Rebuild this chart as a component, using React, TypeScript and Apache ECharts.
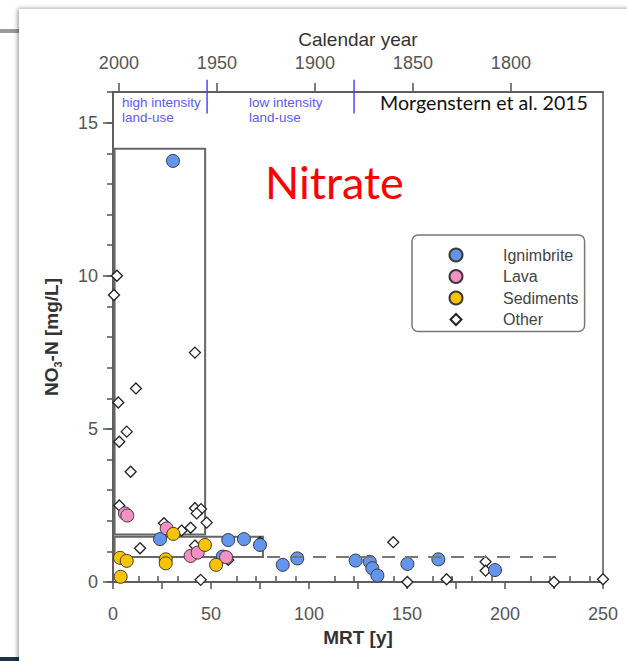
import React, { useEffect, useRef } from "react";
import * as echarts from "echarts";

// ---------- data ----------
const ignimbriteMRT = [30.6, 24, 56, 58.8, 66.8, 75, 86.6, 94, 123.8, 131, 132.3, 134.9, 150.2, 166, 194.9];
const ignimbriteNO3 = [13.75, 1.4, 0.83, 1.37, 1.4, 1.21, 0.56, 0.77, 0.7, 0.66, 0.45, 0.21, 0.59, 0.74, 0.39];

const lavaMRT = [6.1, 7.3, 27.4, 39.6, 43.2, 57.7];
const lavaNO3 = [2.24, 2.17, 1.75, 0.85, 0.96, 0.81];

const sedimentsMRT = [3.6, 7, 3.9, 26.9, 26.9, 30.8, 46.9, 52.6];
const sedimentsNO3 = [0.79, 0.69, 0.17, 0.74, 0.61, 1.57, 1.21, 0.56];

const otherMRT = [2, 0.5, 41.8, 11.7, 2.7, 7, 3.2, 9, 3.2, 41.8, 44.9, 42.7, 47.8, 26, 35, 39.6, 13.8, 41.8, 58.8, 44.7, 75, 143, 150.2, 170.2, 190.1, 190.1, 225, 250];
const otherNO3 = [10.0, 9.37, 7.49, 6.32, 5.86, 4.91, 4.58, 3.6, 2.5, 2.41, 2.38, 2.24, 1.94, 1.92, 1.68, 1.77, 1.1, 1.19, 0.72, 0.07, 1.3, 1.3, 0.0, 0.09, 0.66, 0.37, 0.0, 0.09];

const seriesNames = ["Ignimbrite", "Lava", "Sediments", "Other"];

// axes
const mrtMin = 0;
const mrtMax = 250;
const mrtInterval = 50;
const no3Min = 0;
const no3Max = 16;
const no3Interval = 5;
const samplingYear = 2003;
const yearLabels = [2000, 1950, 1900, 1850, 1800];
const yearMinorTicks = [1990, 1980, 1970, 1960, 1940, 1930, 1920, 1910, 1890, 1880, 1870, 1860, 1840, 1830, 1820, 1810, 1790, 1780, 1770, 1760];

// annotations
const landUseYears = [1955, 1880];
const landUseMarkBottom = 15.3;
const landUseMarkTop = 16.4;
const boxes = [
  [0.8, 1.55, 47, 14.15],
  [0.8, 0.82, 76.5, 1.48],
];
const baselineLevel = 0.82;
const baselineFrom = 78.6;
const baselineTo = 229;

const zip = (a: number[], b: number[]) => a.map((v, i) => [v, b[i]]);

const AXIS = "#555";
const LABEL = "#555";
const SANS = "'Liberation Sans', Arial, Helvetica, sans-serif";
// diamond legend icon; the two leading move-to points span the whole icon box so the diamond is not stretched
const LEGEND_W = 84;
const LEGEND_H = 13;
const DIAMOND_ICON = "path://M0,0M84,13M42,1L47.5,6.5L42,12L36.5,6.5Z";

export default function App() {
  const ref = useRef<HTMLDivElement>(null);

  useEffect(() => {
    if (!ref.current) return;
    const chart = echarts.init(ref.current, null, { renderer: "svg" });

    const axisLine = { show: true, onZero: false, lineStyle: { color: AXIS, width: 1.5 } };
    const option: any = {
      animation: false,
      textStyle: { fontFamily: SANS },
      grid: { left: 113, top: 92, width: 490, height: 490, show: true, borderColor: AXIS, borderWidth: 1.5, backgroundColor: "transparent" },
      legend: {
        data: [
          { name: seriesNames[0] },
          { name: seriesNames[1] },
          { name: seriesNames[2] },
          { name: seriesNames[3], icon: DIAMOND_ICON },
        ],
        orient: "vertical",
        left: 412,
        top: 235,
        itemWidth: LEGEND_W,
        itemHeight: LEGEND_H,
        itemGap: 5.5,
        padding: [12, 6, 4, 1],
        borderColor: "#777",
        borderWidth: 1.5,
        borderRadius: 6,
        selectedMode: false,
        textStyle: { fontSize: 16, color: "#444", fontFamily: SANS },
      },
      xAxis: [
        {
          type: "value",
          position: "bottom",
          min: mrtMin,
          max: mrtMax,
          interval: mrtInterval,
          axisLine,
          axisTick: { show: true, length: 7, lineStyle: { color: AXIS, width: 1.5 } },
          minorTick: { show: true, splitNumber: 2, length: 7, lineStyle: { color: AXIS, width: 1.5 } },
          splitLine: { show: false },
          minorSplitLine: { show: false },
          axisLabel: { fontSize: 18, color: LABEL, margin: 23 },
          name: "MRT [y]",
          nameLocation: "middle",
          nameGap: 41,
          nameTextStyle: { fontSize: 19, fontWeight: "bold", color: "#333" },
        },
        {
          type: "value",
          position: "top",
          min: samplingYear - mrtMax,
          max: samplingYear,
          inverse: true,
          axisLine,
          axisTick: { show: true, length: 9, customValues: yearLabels, lineStyle: { color: AXIS, width: 1.5 } },
          axisLabel: { customValues: yearLabels, fontSize: 18, color: LABEL, margin: 20, formatter: (v: number) => String(v) },
          splitLine: { show: false },
          name: "Calendar year",
          nameLocation: "middle",
          nameGap: 41,
          nameTextStyle: { fontSize: 19, color: "#333" },
        },
        {
          type: "value",
          position: "top",
          min: samplingYear - mrtMax,
          max: samplingYear,
          inverse: true,
          axisLine: { show: false },
          axisTick: { show: true, length: 6, customValues: yearMinorTicks, lineStyle: { color: AXIS, width: 1.5 } },
          axisLabel: { show: false },
          splitLine: { show: false },
        },
      ],
      yAxis: [
        {
          type: "value",
          position: "left",
          min: no3Min,
          max: no3Max,
          interval: no3Interval,
          axisLine,
          axisTick: { show: true, length: 10, lineStyle: { color: AXIS, width: 1.5 } },
          axisLabel: { fontSize: 18, color: LABEL, margin: 15, showMaxLabel: false },
          splitLine: { show: false },
          name: "NO{sub|3}-N [mg/L]",
          nameLocation: "middle",
          nameGap: 50,
          nameRotate: 90,
          nameTextStyle: {
            fontSize: 19,
            fontWeight: "bold",
            color: "#333",
            rich: { sub: { fontSize: 11, fontWeight: "bold", color: "#333", padding: [12, 0, 0, 0] } },
          },
        },
        {
          type: "value",
          position: "left",
          min: no3Min,
          max: no3Max,
          interval: 1,
          axisLine: { show: false },
          axisTick: { show: true, length: 6, lineStyle: { color: AXIS, width: 1.5 } },
          axisLabel: { show: false },
          splitLine: { show: false },
        },
      ],
      graphic: [
        { id: "barTop", type: "rect", z: -100, shape: { x: 0, y: 29, width: 22, height: 4 }, style: { fill: "#9a9a9a" } },
        { id: "barBottom", type: "rect", z: -100, shape: { x: 0, y: 657, width: 22, height: 4 }, style: { fill: "#1d3347" } },
        {
          id: "card",
          type: "rect",
          z: -90,
          shape: { x: 19, y: 9, width: 700, height: 700 },
          style: { fill: "#fff", shadowBlur: 5, shadowColor: "rgba(0,0,0,0.45)", shadowOffsetX: -1, shadowOffsetY: 0 },
        },
        {
          id: "high",
          type: "text",
          x: 122,
          y: 109.5,
          style: { text: "high intensity\nland-use", fill: "#5b5bf0", fontSize: 13.5, fontFamily: SANS, lineHeight: 15, verticalAlign: "middle" },
        },
        {
          id: "low",
          type: "text",
          x: 249,
          y: 109.5,
          style: { text: "low intensity\nland-use", fill: "#5b5bf0", fontSize: 13.5, fontFamily: SANS, lineHeight: 15, verticalAlign: "middle" },
        },
        {
          id: "credit",
          type: "text",
          x: 588,
          y: 102,
          style: { text: "Morgenstern et al. 2015", fill: "#111", fontSize: 19.6, fontFamily: "Lato, 'Open Sans', sans-serif", align: "right", verticalAlign: "middle" },
        },
        {
          id: "nitrate",
          type: "text",
          x: 265,
          y: 182,
          style: { text: "Nitrate", fill: "#ff0000", fontSize: 45, fontFamily: "Lato, 'Open Sans', sans-serif", align: "left", verticalAlign: "middle" },
        },
      ],
      series: [
        {
          name: "boxes",
          type: "scatter",
          data: [],
          silent: true,
          markArea: {
            silent: true,
            itemStyle: { color: "rgba(0,0,0,0)", borderColor: "#666", borderWidth: 2 },
            label: { show: false },
            data: boxes.map((b) => [{ coord: [b[0], b[1]] }, { coord: [b[2], b[3]] }]),
          },
          markLine: {
            silent: true,
            symbol: ["none", "none"],
            label: { show: false },
            lineStyle: { color: "#777", width: 2, type: [13, 10] },
            data: [[{ coord: [baselineFrom, baselineLevel] }, { coord: [baselineTo, baselineLevel] }]],
          },
        },
        {
          name: "Other",
          type: "scatter",
          symbol: "diamond",
          symbolSize: 11,
          data: zip(otherMRT, otherNO3),
          itemStyle: { color: "#ffffff", borderColor: "#222", borderWidth: 1.3, opacity: 1 },
        },
        {
          name: "Ignimbrite",
          type: "scatter",
          symbol: "circle",
          symbolSize: 13,
          data: zip(ignimbriteMRT, ignimbriteNO3),
          itemStyle: { color: "#6495ed", borderColor: "#3a3a3a", borderWidth: 1, opacity: 1 },
        },
        {
          name: "Lava",
          type: "scatter",
          symbol: "circle",
          symbolSize: 13,
          data: zip(lavaMRT, lavaNO3),
          itemStyle: { color: "#f490c4", borderColor: "#3a3a3a", borderWidth: 1, opacity: 1 },
        },
        {
          name: "Sediments",
          type: "scatter",
          symbol: "circle",
          symbolSize: 13,
          data: zip(sedimentsMRT, sedimentsNO3),
          itemStyle: { color: "#f8c300", borderColor: "#3a3a3a", borderWidth: 1, opacity: 1 },
        },
      ],
    };

    chart.setOption(option);

    // land-use boundary marks, placed through the calendar-year axis scale
    const marks = landUseYears.map((yr, i) => {
      const p1 = chart.convertToPixel({ xAxisIndex: 1, yAxisIndex: 0 }, [yr, landUseMarkBottom]) as number[];
      const p2 = chart.convertToPixel({ xAxisIndex: 1, yAxisIndex: 0 }, [yr, landUseMarkTop]) as number[];
      return {
        id: "landuse" + i,
        type: "line",
        z: 10,
        shape: { x1: p1[0], y1: p1[1], x2: p2[0], y2: p2[1] },
        style: { stroke: "#4a4af0", lineWidth: 1.5 },
      };
    });
    chart.setOption({ graphic: marks });

    return () => chart.dispose();
  }, []);

  return <div ref={ref} style={{ position: "absolute", left: 0, top: 0, width: 627, height: 661 }} />;
}
